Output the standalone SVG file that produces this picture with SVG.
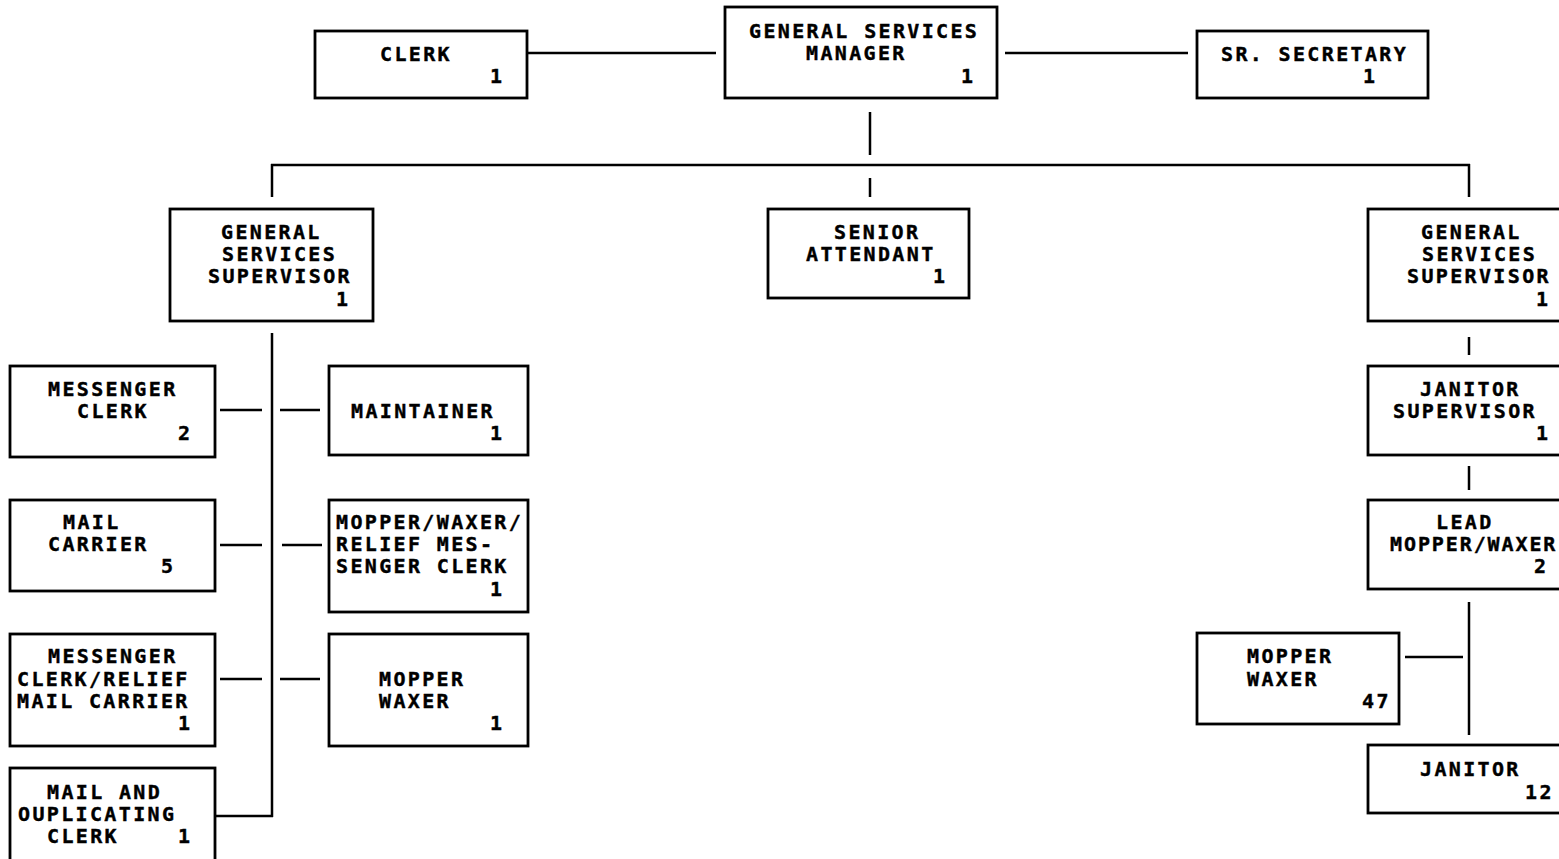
<svg xmlns="http://www.w3.org/2000/svg" width="1559" height="859" viewBox="0 0 1559 859">
<style>
rect{fill:#fff;stroke:#000;stroke-width:2.8}
text{font-family:"DejaVu Sans Mono","Liberation Mono",monospace;font-weight:bold;font-size:20px;letter-spacing:2.35px;fill:#000;stroke:#000;stroke-width:0.4}
.c line{stroke:#000;stroke-width:2.5}
</style>
<rect x="0" y="0" width="1559" height="859" style="stroke:none"/>
<g class="c" id="connectors">
<line x1="527" y1="53" x2="716" y2="53"/>
<line x1="1005" y1="53" x2="1188" y2="53"/>
<line x1="870" y1="112" x2="870" y2="155"/>
<line x1="271" y1="165" x2="1470" y2="165"/>
<line x1="272" y1="164" x2="272" y2="197"/>
<line x1="870" y1="178" x2="870" y2="197"/>
<line x1="1469" y1="164" x2="1469" y2="197"/>
<line x1="1469" y1="337" x2="1469" y2="355"/>
<line x1="1469" y1="466" x2="1469" y2="490"/>
<line x1="1469" y1="602" x2="1469" y2="735"/>
<line x1="1405" y1="657" x2="1463" y2="657"/>
<line x1="272" y1="333" x2="272" y2="817"/>
<line x1="216" y1="816" x2="273" y2="816"/>
<line x1="220" y1="410" x2="262" y2="410"/>
<line x1="280" y1="410" x2="320" y2="410"/>
<line x1="220" y1="545" x2="262" y2="545"/>
<line x1="282" y1="545" x2="322" y2="545"/>
<line x1="220" y1="679" x2="262" y2="679"/>
<line x1="280" y1="679" x2="320" y2="679"/>
</g>
<g id="clerk"><rect x="315" y="31" width="212" height="67"/><text x="380" y="61">CLERK</text><text x="490" y="83">1</text></g>
<g id="gsm"><rect x="725" y="7" width="272" height="91"/><text x="749" y="38">GENERAL SERVICES</text><text x="806" y="60">MANAGER</text><text x="961" y="83">1</text></g>
<g id="srsec"><rect x="1197" y="31" width="231" height="67"/><text x="1221" y="61">SR. SECRETARY</text><text x="1363" y="83">1</text></g>
<g id="gss-left"><rect x="170" y="209" width="203" height="112"/><text x="221" y="239">GENERAL</text><text x="222" y="261">SERVICES</text><text x="208" y="283">SUPERVISOR</text><text x="336" y="306">1</text></g>
<g id="senior"><rect x="768" y="209" width="201" height="89"/><text x="834" y="239">SENIOR</text><text x="806" y="261">ATTENDANT</text><text x="933" y="283">1</text></g>
<g id="gss-right"><rect x="1368" y="209" width="210" height="112"/><text x="1421" y="239">GENERAL</text><text x="1422" y="261">SERVICES</text><text x="1407" y="283">SUPERVISOR</text><text x="1536" y="306">1</text></g>
<g id="janitor-sup"><rect x="1368" y="366" width="210" height="89"/><text x="1420" y="396">JANITOR</text><text x="1393" y="418">SUPERVISOR</text><text x="1536" y="440">1</text></g>
<g id="lead"><rect x="1368" y="500" width="210" height="89"/><text x="1436" y="529">LEAD</text><text x="1390" y="551" style="letter-spacing:1.9px">MOPPER/WAXER</text><text x="1534" y="573">2</text></g>
<g id="mopper47"><rect x="1197" y="633" width="202" height="91"/><text x="1247" y="663">MOPPER</text><text x="1247" y="686">WAXER</text><text x="1362" y="708">47</text></g>
<g id="janitor"><rect x="1368" y="745" width="210" height="68"/><text x="1420" y="776">JANITOR</text><text x="1525" y="799">12</text></g>
<g id="msg-clerk"><rect x="10" y="366" width="205" height="91"/><text x="48" y="396">MESSENGER</text><text x="77" y="418">CLERK</text><text x="178" y="440">2</text></g>
<g id="maintainer"><rect x="329" y="366" width="199" height="89"/><text x="351" y="418">MAINTAINER</text><text x="490" y="440">1</text></g>
<g id="mail-carrier"><rect x="10" y="500" width="205" height="91"/><text x="63" y="529">MAIL</text><text x="48" y="551">CARRIER</text><text x="161" y="573">5</text></g>
<g id="mopper-relief"><rect x="329" y="500" width="199" height="112"/><text x="336" y="529">MOPPER/WAXER/</text><text x="336" y="551">RELIEF MES-</text><text x="336" y="573">SENGER CLERK</text><text x="490" y="596">1</text></g>
<g id="msg-relief"><rect x="10" y="634" width="205" height="112"/><text x="48" y="663">MESSENGER</text><text x="17" y="686">CLERK/RELIEF</text><text x="17" y="708">MAIL CARRIER</text><text x="178" y="730">1</text></g>
<g id="mopper1"><rect x="329" y="634" width="199" height="112"/><text x="379" y="686">MOPPER</text><text x="379" y="708">WAXER</text><text x="490" y="730">1</text></g>
<g id="mail-dup"><rect x="10" y="768" width="205" height="100"/><text x="47" y="799">MAIL AND</text><text x="18" y="821">OUPLICATING</text><text x="47" y="843">CLERK</text><text x="178" y="843">1</text></g>
</svg>
